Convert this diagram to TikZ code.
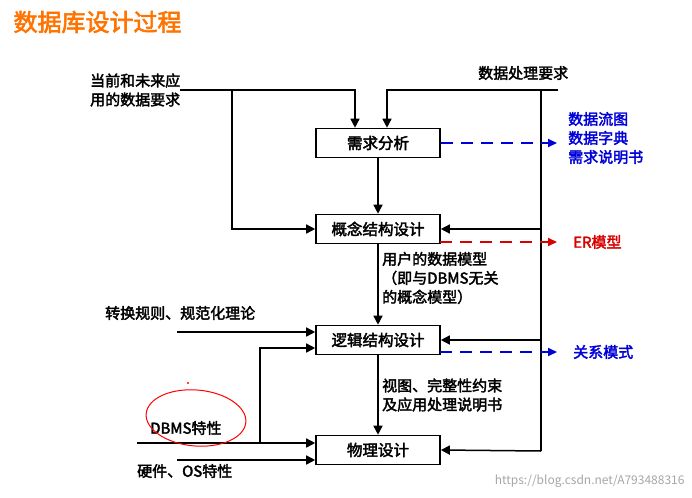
\documentclass[tikz,border=0pt]{standalone}
\usepackage{fontspec}
\setmainfont{Noto Sans CJK SC}[AutoFakeBold=2.5]
\usetikzlibrary{arrows.meta}
\begin{document}
\begin{tikzpicture}[x=1pt,y=-1pt,
  box/.style={draw,line width=1.6pt,minimum width=124pt,minimum height=29pt,inner sep=0pt,font=\bfseries\fontsize{15.5}{17}\selectfont},
  lab/.style={font=\bfseries\fontsize{15}{19}\selectfont,align=left,inner sep=0pt},
  ln/.style={line width=1.5pt},
  ar/.style={line width=1.5pt,-{Triangle[length=9pt,width=9pt]}},
  da/.style={line width=2pt,dash pattern=on 12pt off 8pt,-{Triangle[length=9pt,width=8pt]}}]
\useasboundingbox (0,0) rectangle (692,497);
\node[anchor=west,text=orange!90!red,font=\bfseries\fontsize{24}{26}\selectfont] (title) at (10,22) {数据库设计过程};
\node[box] (a) at (378,143) {需求分析};
\node[box] (b) at (378,229) {概念结构设计};
\node[box] (c) at (378,340) {逻辑结构设计};
\node[box] (d) at (378,450) {物理设计};
\node[lab,anchor=west] (t1) at (90,90) {当前和未来应\\用的数据要求};
\node[lab,anchor=west] (t2) at (478,73) {数据处理要求};
\node[lab,anchor=west] (t3) at (382,278) {用户的数据模型\\（即与DBMS无关\\的概念模型）};
\node[lab,anchor=west] (t4) at (382,395) {视图、完整性约束\\及应用处理说明书};
\node[lab,anchor=west] (t5) at (105,313) {转换规则、规范化理论};
\node[lab,anchor=west] (t6) at (150,428) {DBMS特性};
\node[lab,anchor=west] (t7) at (137,471) {硬件、OS特性};
\node[lab,anchor=west,text=blue!85!black] (o1) at (568,138) {数据流图\\数据字典\\需求说明书};
\node[lab,anchor=west,text=red!85!black] (o2) at (573,242) {ER模型};
\node[lab,anchor=west,text=blue!85!black] (o3) at (573,352) {关系模式};
\node[anchor=east,text=gray!70,font=\fontsize{12}{14}\selectfont] (wm) at (688,481) {https://blog.csdn.net/A793488316};
% left feed
\coordinate (l0) at (180,90); \coordinate (lb) at (232,90);
\draw[ar] (l0) -| ([xshift=-23pt]a.north);
\draw[ar] (lb) |- (b.west);
% right feed
\coordinate (r0) at (558,90); \coordinate (rv) at (541,90);
\draw[ar] (r0) -| ([xshift=9pt]a.north);
\draw[ln] (rv) -- (541,451);
\draw[ar] (541,229) -- (b.east);
\draw[ar] (541,340) -- (c.east);
\draw[ar] (541,451) -- (d.east);
% main flow
\draw[ar] (a) -- (b);
\draw[ar] (b) -- (c);
\draw[ar] (c) -- (d);
% inputs
\draw[ar] (177,332) -- (c.west|-0,332);
\draw[ar] (260,443) |- (c.west|-0,348);
\draw[ar] (137,443) -- (d.west|-0,443);
\draw[ar] (177,460) -- (d.west|-0,460);
% outputs
\draw[da,blue!85!black] (a.east) -- (557,143);
\draw[da,red!85!black] (440,242) -- (557,242);
\draw[da,blue!85!black] (440,352) -- (557,352);
% annotation
\draw[red,line width=1pt,rotate around={-5:(196,418)}] (196,418) ellipse (50pt and 28pt);
\fill[red] (188,383) circle (1.2pt);
\end{tikzpicture}
\end{document}
